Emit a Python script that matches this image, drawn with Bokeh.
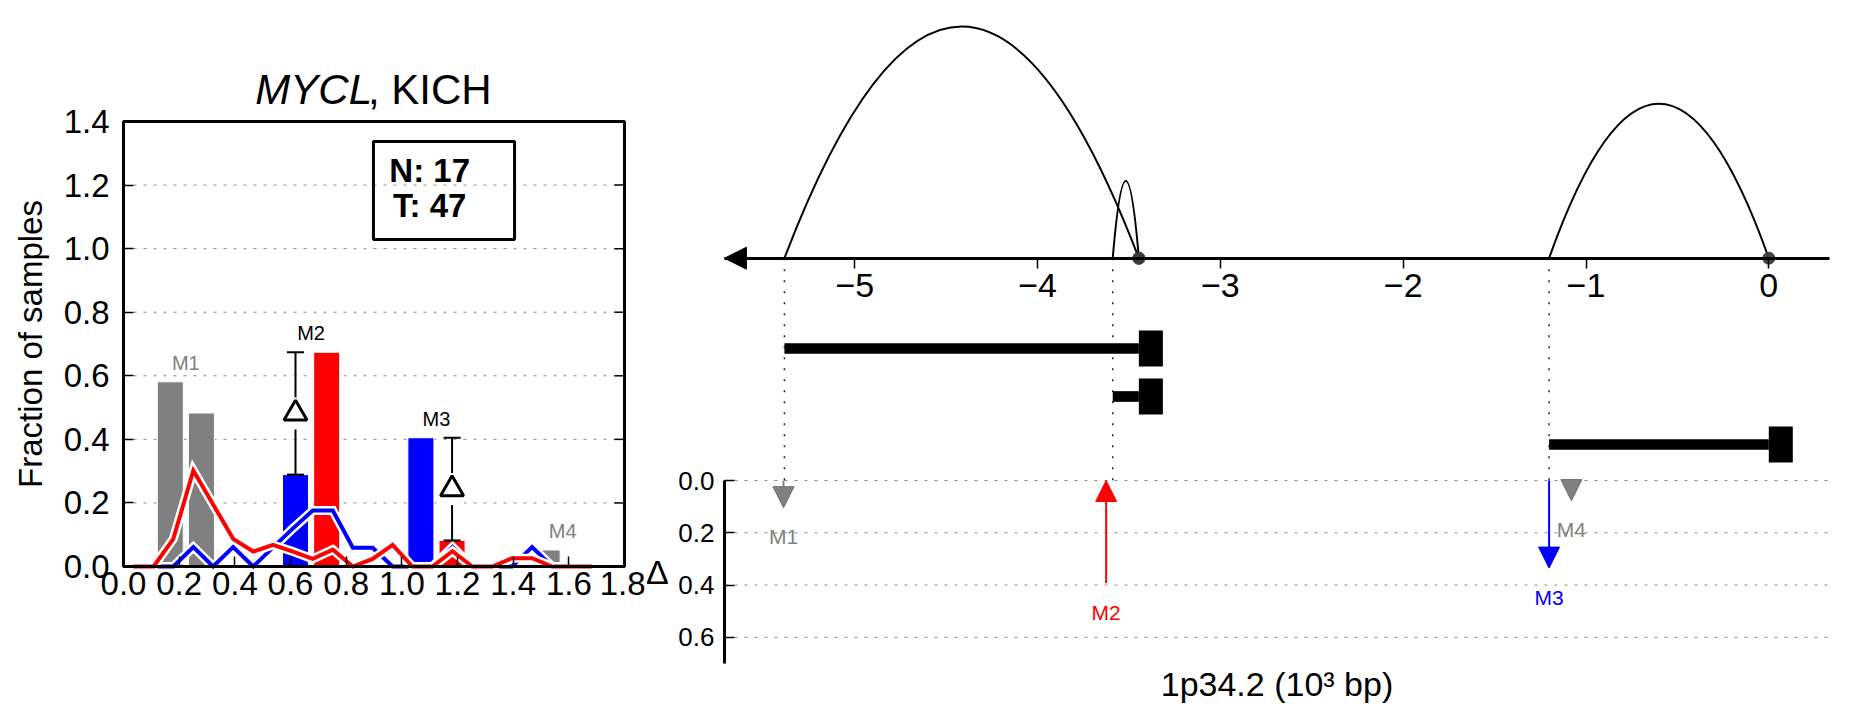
import math
from bokeh.plotting import figure
from bokeh.models import (Range1d, LinearAxis, FixedTicker, PrintfTickFormatter, Label,
                          BoxAnnotation, Arrow, NormalHead, CustomJSTickFormatter)
from bokeh.layouts import row
from bokeh.core.properties import value
from bokeh.embed import file_html
from bokeh.resources import INLINE

FONT = "Liberation Sans"
GRAY = "#808080"
RED = "#ff0000"
BLUE = "#0000ff"

# ------------------------------------------------------------------ data
gene_name = "MYCL"
cohort = "KICH"
n_normal = 17
n_tumour = 47

motifs = ["M1", "M2", "M3", "M4"]
motif_x = [0.224, 0.674, 1.1245, 1.578]          # pair centres on the left x axis
frac_a = [0.581, 0.289, 0.405, 0.052]             # first bar of each pair
frac_b = [0.483, 0.674, 0.082, 0.0]               # second bar of each pair
significant = [False, True, True, False]

dens_x = [0.036, 0.108, 0.179, 0.251, 0.322, 0.394, 0.466, 0.537, 0.609, 0.680, 0.752, 0.824,
          0.895, 0.967, 1.038, 1.110, 1.182, 1.253, 1.325, 1.396, 1.468, 1.540, 1.611, 1.683]
dens_red = [0.0, 0.0, 0.087, 0.302, 0.195, 0.087, 0.047, 0.068, 0.047, 0.024, 0.053, 0.0,
            0.024, 0.068, 0.0, 0.0, 0.048, 0.0, 0.0, 0.026, 0.026, 0.0, 0.0, 0.0]
dens_blue = [0.0, 0.0, 0.0, 0.061, 0.0, 0.061, 0.0, 0.060, 0.120, 0.176, 0.176, 0.059,
             0.059, 0.0, 0.0, 0.0, 0.061, 0.0, 0.0, 0.0, 0.061, 0.0, 0.0, 0.0]

x_ticks = [0.0, 0.2, 0.4, 0.6, 0.8, 1.0, 1.2, 1.4, 1.6, 1.8]
y_ticks = [0.0, 0.2, 0.4, 0.6, 0.8, 1.0, 1.2, 1.4]
y_label = "Fraction of samples"

# right panel (genomic coordinates in 10^3 bp)
gene_start = [-5.385, -3.589, -1.202]
gene_end = [-3.446, -3.446, 0.0]
arc_height = [3, 1, 2]
motif_pos = [-5.39, -3.625, -1.202, -1.08]
motif_delta = [0.104, 0.393, 0.335, 0.077]
g_ticks = [-5, -4, -3, -2, -1, 0]
g_limits = (-5.713, 0.332)
d_ticks = [0.0, 0.2, 0.4, 0.6]
d_limits = (0.0, 0.7)
region_label = "1p34.2 (10³ bp)"
delta_label = "Δ"

# ------------------------------------------------------------------ page geometry (px)
CANVAS_H = 712
PAGE_TOP = 0
L_LEFT, L_RIGHT = 0, 645            # left canvas on the page
R_LEFT, R_RIGHT = 645, 1851         # right canvas on the page

# left panel: box 123..624 (x), 121..566 (y)
LX0, LX1, LY0, LY1 = 123.0, 624.0, 566.0, 121.0
lpx_x = (LX1 - LX0) / 1.8
lpx_y = (LY0 - LY1) / 1.4
lx_range = Range1d((L_LEFT - LX0) / lpx_x, 1.8 + (L_RIGHT - LX1) / lpx_x)
ly_range = Range1d(-(PAGE_TOP + CANVAS_H - LY0) / lpx_y, 1.4 + (LY1 - PAGE_TOP) / lpx_y)

pl = figure(width=L_RIGHT - L_LEFT, height=CANVAS_H, x_range=lx_range, y_range=ly_range,
            x_axis_type=None, y_axis_type=None, output_backend="svg", toolbar_location=None,
            min_border=0, min_border_left=0, min_border_right=0, min_border_top=0,
            min_border_bottom=0)
pl.outline_line_color = None
pl.background_fill_color = "white"
pl.border_fill_color = "white"
pl.xgrid.visible = False
pl.ygrid.visible = False

xax = LinearAxis(ticker=FixedTicker(ticks=x_ticks), fixed_location=0, bounds=(0, 1.8),
                 formatter=PrintfTickFormatter(format="%.1f"), axis_line_color=None,
                 major_tick_in=10, major_tick_out=0, major_tick_line_width=1.5,
                 minor_tick_line_color=None, major_label_text_font=FONT,
                 major_label_text_font_size="33px", major_label_text_color="black",
                 major_label_standoff=5)
pl.add_layout(xax, "below")
yax = LinearAxis(ticker=FixedTicker(ticks=y_ticks), fixed_location=0, bounds=(0, 1.4),
                 formatter=PrintfTickFormatter(format="%.1f"), axis_line_color=None,
                 major_tick_in=10, major_tick_out=0, major_tick_line_width=1.5,
                 minor_tick_line_color=None, major_label_text_font=FONT,
                 major_label_text_font_size="33px", major_label_text_color="black",
                 major_label_standoff=14)
pl.add_layout(yax, "left")

# dashed horizontal grid inside the box and ticks on the right side of the box
inner = [t for t in y_ticks if 0 < t < 1.4]
pl.segment(x0=[0] * len(inner), y0=inner, x1=[1.8] * len(inner), y1=inner,
           line_color="#8a8a8a", line_width=1, line_dash="3 7")
pl.segment(x0=[1.8] * len(y_ticks), y0=y_ticks, x1=[1.8 - 10 / lpx_x] * len(y_ticks),
           y1=y_ticks, line_color="black", line_width=1.5)

dodge = 0.056
bar_w = 0.0935
xa = [x - dodge for x in motif_x]
xb = [x + dodge for x in motif_x]
col_a = [BLUE if s else GRAY for s in significant]
col_b = [RED if s else GRAY for s in significant]
pl.vbar(x=xa, top=frac_a, width=bar_w, fill_color=col_a, line_color="white", line_width=1)
pl.vbar(x=xb, top=frac_b, width=bar_w, fill_color=col_b, line_color="white", line_width=1)

pl.line(dens_x, dens_blue, line_color="white", line_width=9, line_join="miter")
pl.line(dens_x, dens_blue, line_color=BLUE, line_width=4, line_join="miter")
pl.line(dens_x, dens_red, line_color="white", line_width=9, line_join="miter")
pl.line(dens_x, dens_red, line_color=RED, line_width=4, line_join="miter")

# difference bars (Delta) for significant motifs
ex, elo, ehi, emid = [], [], [], []
for i, s in enumerate(significant):
    if s:
        lo_x = xa[i] if frac_a[i] < frac_b[i] else xb[i]
        lo, hi = min(frac_a[i], frac_b[i]), max(frac_a[i], frac_b[i])
        ex.append(lo_x); elo.append(lo); ehi.append(hi); emid.append((lo + hi) / 2)
pl.segment(x0=ex, y0=elo, x1=ex, y1=ehi, line_color="black", line_width=2)
pl.scatter(ex, elo, marker="dash", size=17, line_color="black", line_width=2)
pl.scatter(ex, ehi, marker="dash", size=17, line_color="black", line_width=2)
pl.rect(x=ex, y=emid, width=24, height=32, width_units="screen", height_units="screen",
        fill_color="white", line_color=None)
pl.scatter(ex, emid, marker="triangle", size=23, fill_color="white", line_color="black",
           line_width=3)

lab_y = [max(a, b) for a, b in zip(frac_a, frac_b)]
lab_c = ["black" if s else GRAY for s in significant]
pl.text(x=motif_x, y=lab_y, text=motifs, text_color=lab_c, text_align="center",
        text_baseline="middle", y_offset=-19, text_font=value(FONT),
        text_font_size=value("20px"))

# frame of the histogram
pl.add_layout(BoxAnnotation(left=0, right=1.8, bottom=0, top=1.4, fill_color=None,
                            fill_alpha=0, line_color="black", line_alpha=1, line_width=3))

# y-axis title
pl.text(x=[0], y=[0.7], text=[y_label], angle=math.pi / 2, x_offset=-93,
        text_align="center", text_baseline="middle", text_color="black",
        text_font=value(FONT), text_font_size=value("33px"))

# title with italic gene name
pl.text(x=[0.9], y=[1.4], text=[gene_name], x_offset=-2, y_offset=-32, text_align="right",
        text_baseline="middle", text_color="black", text_font=value(FONT),
        text_font_size=value("42px"), text_font_style=value("italic"))
pl.text(x=[0.9], y=[1.4], text=[", " + cohort], x_offset=-6, y_offset=-32, text_align="left",
        text_baseline="middle", text_color="black", text_font=value(FONT),
        text_font_size=value("42px"), text_font_style=value("normal"))

# sample-size box
pl.add_layout(BoxAnnotation(left=0.898, right=1.405, bottom=1.029, top=1.337,
                            fill_color=None, fill_alpha=0, line_color="black", line_alpha=1,
                            line_width=3))
pl.add_layout(Label(x=1.10, y=1.247, text="N: %d" % n_normal, text_font=FONT,
                    text_font_size="33px", text_font_style="bold", text_align="center",
                    text_baseline="middle", text_color="black"))
pl.add_layout(Label(x=1.10, y=1.136, text="T: %d" % n_tumour, text_font=FONT,
                    text_font_size="33px", text_font_style="bold", text_align="center",
                    text_baseline="middle", text_color="black"))

# ------------------------------------------------------------------ right figure
X_ZERO, PX_X = 1768.3, 182.8        # page x of genomic 0 and px per 10^3 bp
AXIS_Y, DELTA0_Y = 257.7, 480.0      # page y of genomic axis and delta = 0
PX_G = 77.2                          # px per arc-height unit
PX_D = 183.0 / 0.7                   # px per delta unit
BOTTOM = PAGE_TOP + CANVAS_H

rx_range = Range1d((R_LEFT - X_ZERO) / PX_X, (R_RIGHT - X_ZERO) / PX_X)
ry_range = Range1d(-(BOTTOM - AXIS_Y) / PX_G, (AXIS_Y - PAGE_TOP) / PX_G)
d_range = Range1d(start=(BOTTOM - DELTA0_Y) / PX_D, end=-(DELTA0_Y - PAGE_TOP) / PX_D)
g_delta0 = -(DELTA0_Y - AXIS_Y) / PX_G

pr = figure(width=R_RIGHT - R_LEFT, height=CANVAS_H, x_range=rx_range, y_range=ry_range,
            x_axis_type=None, y_axis_type=None, output_backend="svg", toolbar_location=None,
            min_border=0, min_border_left=0, min_border_right=0, min_border_top=0,
            min_border_bottom=0)
pr.outline_line_color = None
pr.background_fill_color = "white"
pr.border_fill_color = "white"
pr.xgrid.visible = False
pr.ygrid.visible = False
pr.extra_y_ranges = {"delta": d_range}

gax = LinearAxis(ticker=FixedTicker(ticks=g_ticks), fixed_location=0, bounds=g_limits,
                 formatter=CustomJSTickFormatter(
                     code="return tick < 0 ? '\\u2212' + Math.abs(tick) : String(tick)"),
                 axis_line_width=3, axis_line_color="black", major_tick_in=0, major_tick_out=10,
                 major_tick_line_width=1.5, minor_tick_line_color=None,
                 major_label_text_font=FONT, major_label_text_font_size="34px",
                 major_label_text_color="black", major_label_standoff=6)
pr.add_layout(gax, "below")

dax = LinearAxis(y_range_name="delta", fixed_location=g_limits[0], bounds=d_limits,
                 ticker=FixedTicker(ticks=d_ticks), formatter=PrintfTickFormatter(format="%.1f"),
                 axis_line_width=3, axis_line_color="black", major_tick_in=10, major_tick_out=0,
                 major_tick_line_width=1.5, minor_tick_line_color=None,
                 major_label_text_font=FONT, major_label_text_font_size="26px",
                 major_label_text_color="black", major_label_standoff=10)
pr.add_layout(dax, "left")

# dotted delta grid lines from the delta axis to the right end
pr.segment(x0=[g_limits[0]] * len(d_ticks), y0=d_ticks, x1=[g_limits[1]] * len(d_ticks),
           y1=d_ticks, y_range_name="delta", line_color="#8a8a8a", line_width=1,
           line_dash="3 7")

# axis titles
pr.text(x=[g_limits[0]], y=[sum(d_limits) / 2], text=[delta_label], y_range_name="delta",
        x_offset=-67, text_align="center", text_baseline="middle", text_color="black",
        text_font=value(FONT), text_font_size=value("34px"))
pr.text(x=[sum(g_limits) / 2], y=[d_limits[1]], text=[region_label], y_range_name="delta",
        y_offset=20, text_align="center", text_baseline="middle", text_color="black",
        text_font=value(FONT), text_font_size=value("34px"))

# arrow head on the genomic axis
pr.add_layout(Arrow(x_start=g_limits[0] + 0.3, y_start=0, x_end=g_limits[0], y_end=0,
                    line_alpha=0, end=NormalHead(size=22, fill_color="black",
                                                 line_color="black")))

# dotted guides from gene starts down to the delta panel
pr.segment(x0=gene_start, y0=0, x1=gene_start, y1=g_delta0, line_color="#222222",
           line_width=1.5, line_dash="2 9")

# arcs spanning each gene
mid = [(s + e) / 2 for s, e in zip(gene_start, gene_end)]
pr.quadratic(x0=gene_start, y0=[0] * 3, x1=gene_end, y1=[0] * 3, cx=mid,
             cy=[2 * h for h in arc_height], line_color="black", line_width=2)
pr.scatter(gene_end, [0] * 3, size=12, fill_color="#3c3c3c", line_color="#3c3c3c",
           fill_alpha=0.95)

# gene tracks
lane_y = [-(348 - AXIS_Y) / PX_G - i * 48 / PX_G for i in range(3)]
pr.hbar(y=lane_y, left=gene_start, right=gene_end, height=10.7 / PX_G, fill_color="black",
        line_color=None)
cap_w = 24 / PX_X
pr.quad(left=gene_end, right=[e + cap_w for e in gene_end],
        bottom=[y - 18 / PX_G for y in lane_y], top=[y + 18 / PX_G for y in lane_y],
        fill_color="black", line_color=None)

# motif arrows in the delta panel
for i, m in enumerate(motifs):
    up = frac_b[i] > frac_a[i]
    if significant[i]:
        c = RED if up else BLUE
        lc = c
    else:
        c = GRAY
        lc = "#6a6a6a"
    ys, ye = (motif_delta[i], 0) if up else (0, motif_delta[i])
    pr.add_layout(Arrow(x_start=motif_pos[i], y_start=ys, x_end=motif_pos[i], y_end=ye,
                        y_range_name="delta", line_color=c, line_width=2,
                        end=NormalHead(size=21, fill_color=c, line_color=lc, line_width=1)))
mcol = [(RED if b > a else BLUE) if s else GRAY for a, b, s in zip(frac_a, frac_b, significant)]
pr.text(x=motif_pos, y=motif_delta, text=motifs, text_color=mcol, y_range_name="delta",
        text_align="center", text_baseline="middle", y_offset=29, text_font=value(FONT),
        text_font_size=value("21px"))

layout = row(pl, pr)
open("out.html", "w").write(file_html(layout, INLINE))
